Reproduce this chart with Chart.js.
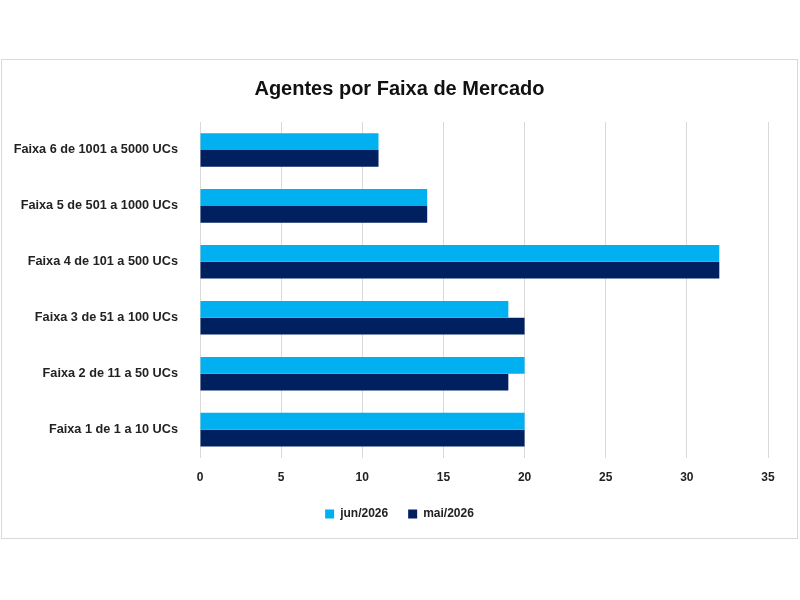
<!DOCTYPE html>
<html>
<head>
<meta charset="utf-8">
<script src="https://cdn.jsdelivr.net/npm/chart.js@4.4.1/dist/chart.umd.min.js"></script>
<style>
  html, body { margin: 0; padding: 0; background: #fff; }
  #box { position: absolute; left: 1px; top: 59px; width: 795px; height: 478px; border: 1px solid #d9d9d9; }
  #myChart { display: block; }
</style>
</head>
<body>
<div id="box"><canvas id="myChart" width="795" height="478"></canvas></div>
<script>
// categories, top to bottom as drawn
var labels = [
    'Faixa 6 de 1001 a 5000 UCs',
    'Faixa 5 de 501 a 1000 UCs',
    'Faixa 4 de 101 a 500 UCs',
    'Faixa 3 de 51 a 100 UCs',
    'Faixa 2 de 11 a 50 UCs',
    'Faixa 1 de 1 a 10 UCs'
];
var jun2026 = [11, 14, 32, 19, 20, 20];
var mai2026 = [11, 14, 32, 20, 19, 20];
var xTicks = [0, 5, 10, 15, 20, 25, 30, 35];

var fontFam = '"Liberation Sans Narrow", "Arial Narrow", "Liberation Sans", sans-serif';
Chart.defaults.font.family = fontFam;
Chart.defaults.color = '#222';

const ctx = document.getElementById('myChart');
const myChart = new Chart(ctx, {
    type: 'bar',
    data: {
        labels: labels,
        datasets: [{
            label: 'jun/2026',
            data: jun2026,
            backgroundColor: '#00B0F0',
            categoryPercentage: 0.6,
            barPercentage: 1.0
        }, {
            label: 'mai/2026',
            data: mai2026,
            backgroundColor: '#002060',
            categoryPercentage: 0.6,
            barPercentage: 1.0
        }]
    },
    options: {
        indexAxis: 'y',
        responsive: false,
        animation: false,
        layout: { padding: { left: 0, right: 0, top: 0, bottom: 8 } },
        scales: {
            x: {
                min: 0,
                max: 35,
                afterBuildTicks: function (scale) {
                    scale.ticks = xTicks.map(function (v) { return { value: v }; });
                },
                grid: { color: '#d9d9d9', drawTicks: false },
                border: { display: false },
                ticks: { padding: 13, font: { size: 12, weight: 'bold' }, color: '#222' },
                afterFit: function (scale) { scale.height = scale.height - 10; }
            },
            y: {
                grid: { display: false },
                border: { display: false },
                ticks: { padding: 14, font: { size: 12.7, weight: 'bold' }, color: '#222' },
                afterFit: function (scale) { scale.width = 198; }
            },
            // empty axis on the right, only to leave space after the plot
            spacer: {
                type: 'linear',
                axis: 'y',
                position: 'right',
                display: true,
                grid: { display: false },
                border: { display: false },
                ticks: { display: false },
                afterFit: function (scale) { scale.width = 29; }
            }
        },
        plugins: {
            title: {
                display: true,
                text: 'Agentes por Faixa de Mercado',
                color: '#111',
                font: { size: 20, weight: 'bold' },
                padding: { top: 17, bottom: 21 }
            },
            legend: {
                position: 'bottom',
                labels: {
                    boxWidth: 9,
                    boxHeight: 9,
                    padding: 20,
                    color: '#222',
                    font: { size: 12, weight: 'bold' }
                }
            },
            tooltip: { enabled: false }
        }
    }
});
</script>
</body>
</html>
